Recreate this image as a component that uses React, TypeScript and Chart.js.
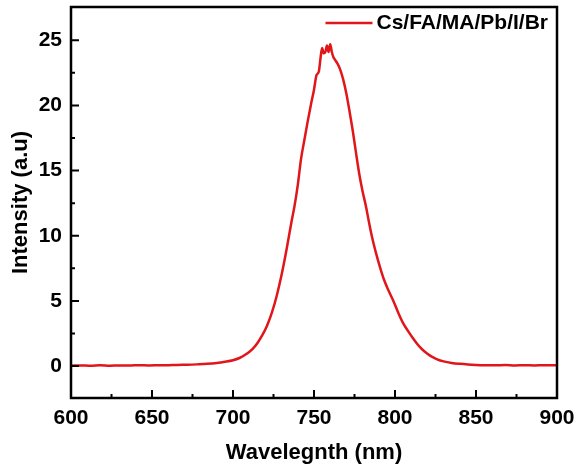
import React, { useEffect, useRef } from "react";
import { Chart, registerables } from "chart.js";

Chart.register(...registerables);

const seriesLabel = "Cs/FA/MA/Pb/I/Br";
const xTitle = "Wavelegnth (nm)";
const yTitle = "Intensity (a.u)";

const wavelengths = [
  600, 606, 612, 618, 624, 630, 636, 642, 648, 654, 660, 666, 672, 678, 684, 690, 695,
  700, 704, 708, 712, 715, 718, 721, 724, 727, 730, 733, 736, 738, 740, 742, 744, 746,
  748, 750, 751.5, 753, 754, 755, 756, 757, 758, 759, 760, 761, 762, 763, 764.5, 766,
  768, 770, 772, 774, 776, 778, 780, 782, 784, 786, 788, 790, 793, 796, 799, 802, 805,
  808, 811, 814, 817, 820, 823, 826, 830, 835, 840, 845, 850, 856, 862, 868, 874, 880,
  886, 892, 900,
];
const intensities = [
  0.03, 0.05, 0.02, 0.06, 0.03, 0.05, 0.04, 0.07, 0.05, 0.06, 0.07, 0.09, 0.1, 0.13, 0.17, 0.24, 0.33,
  0.45, 0.62, 0.9, 1.3, 1.75, 2.35, 3.1, 4.1, 5.4, 7.0, 8.9, 11.0, 12.3, 13.9, 15.9, 17.3, 18.7,
  20.0, 21.2, 22.3, 22.6, 23.6, 24.4, 24.0, 24.1, 24.6, 24.1, 24.7, 24.1, 23.7, 23.5, 23.2, 22.8,
  22.0, 20.9, 19.5, 18.0, 16.3, 14.7, 13.4, 12.3, 11.0, 9.8, 8.8, 7.9, 6.7, 5.8, 5.0, 4.1, 3.3,
  2.7, 2.15, 1.65, 1.25, 0.95, 0.7, 0.52, 0.36, 0.24, 0.17, 0.12, 0.09, 0.07, 0.06, 0.08, 0.05, 0.07,
  0.05, 0.06, 0.06,
];

const xMajorTicks = [600, 650, 700, 750, 800, 850, 900];
const xMinorTicks = [625, 675, 725, 775, 825, 875];
const yMajorTicks = [0, 5, 10, 15, 20, 25];
const yMinorTicks = [2.5, 7.5, 12.5, 17.5, 22.5];

const FONT = "'Liberation Sans', Arial, sans-serif";
const LINE_COLOR = "rgb(224,22,26)";

const framePlugin = {
  id: "frameTicksLegend",
  afterDraw(chart: any) {
    const { ctx, chartArea } = chart;
    const xs = chart.scales.x;
    const ys = chart.scales.y;
    ctx.save();
    ctx.strokeStyle = "#000";
    ctx.lineWidth = 2;
    ctx.beginPath();
    xMajorTicks.forEach((v) => {
      const px = xs.getPixelForValue(v);
      ctx.moveTo(px, chartArea.bottom);
      ctx.lineTo(px, chartArea.bottom - 8);
    });
    xMinorTicks.forEach((v) => {
      const px = xs.getPixelForValue(v);
      ctx.moveTo(px, chartArea.bottom);
      ctx.lineTo(px, chartArea.bottom - 4);
    });
    yMajorTicks.forEach((v) => {
      const py = ys.getPixelForValue(v);
      ctx.moveTo(chartArea.left, py);
      ctx.lineTo(chartArea.left + 8, py);
    });
    yMinorTicks.forEach((v) => {
      const py = ys.getPixelForValue(v);
      ctx.moveTo(chartArea.left, py);
      ctx.lineTo(chartArea.left + 4, py);
    });
    ctx.stroke();
    ctx.lineWidth = 2.5;
    ctx.strokeRect(
      chartArea.left,
      chartArea.top,
      chartArea.right - chartArea.left,
      chartArea.bottom - chartArea.top
    );
    const ds = chart.data.datasets[0];
    ctx.font = `bold 21px ${FONT}`;
    const tw = ctx.measureText(ds.label).width;
    const textX = chartArea.right - 9 - tw;
    const ly = chartArea.top + 16;
    ctx.strokeStyle = ds.borderColor;
    ctx.lineWidth = 2.5;
    ctx.beginPath();
    ctx.moveTo(textX - 51, ly);
    ctx.lineTo(textX - 4, ly);
    ctx.stroke();
    ctx.fillStyle = "#000";
    ctx.textAlign = "left";
    ctx.textBaseline = "middle";
    ctx.fillText(ds.label, textX, ly);
    ctx.restore();
  },
};

const zeroPad = (scale: any) => {
  scale.paddingTop = 0;
  scale.paddingBottom = 0;
  scale.paddingLeft = 0;
  scale.paddingRight = 0;
};

export default function App() {
  const canvasRef = useRef<HTMLCanvasElement | null>(null);

  useEffect(() => {
    const canvas = canvasRef.current;
    if (!canvas) return;
    const points = wavelengths.map((w, i) => ({ x: w, y: intensities[i] }));
    const chart = new Chart(canvas, {
      type: "line",
      data: {
        datasets: [
          {
            label: seriesLabel,
            data: points,
            borderColor: LINE_COLOR,
            backgroundColor: LINE_COLOR,
            borderWidth: 2.5,
            pointRadius: 0,
            cubicInterpolationMode: "monotone",
            fill: false,
          },
        ],
      },
      options: {
        responsive: false,
        animation: false,
        layout: { padding: { top: 7, right: 19, left: 0, bottom: 0 } },
        plugins: {
          legend: { display: false },
          tooltip: { enabled: false },
        },
        scales: {
          x: {
            type: "linear",
            min: 600,
            max: 900,
            grid: { display: false, drawTicks: false },
            border: { display: false },
            afterBuildTicks: (scale: any) => {
              scale.ticks = xMajorTicks.map((v) => ({ value: v }));
            },
            afterFit: (scale: any) => {
              scale.height = 72;
              zeroPad(scale);
            },
            ticks: {
              padding: 8,
              color: "#000",
              maxRotation: 0,
              font: { family: FONT, size: 21, weight: "bold" },
            },
            title: {
              display: true,
              text: xTitle,
              color: "#000",
              font: { family: FONT, size: 22, weight: "bold" },
              padding: { top: 0, bottom: 4 },
            },
          },
          y: {
            type: "linear",
            min: -2.45,
            max: 27.55,
            grid: { display: false, drawTicks: false },
            border: { display: false },
            afterBuildTicks: (scale: any) => {
              scale.ticks = yMajorTicks.map((v) => ({ value: v }));
            },
            afterFit: (scale: any) => {
              scale.width = 71;
              zeroPad(scale);
            },
            ticks: {
              padding: 9,
              color: "#000",
              font: { family: FONT, size: 21, weight: "bold" },
            },
            title: {
              display: true,
              text: yTitle,
              color: "#000",
              font: { family: FONT, size: 22, weight: "bold" },
              padding: { top: 8, bottom: 0 },
            },
          },
        },
      },
      plugins: [framePlugin],
    } as any);
    return () => chart.destroy();
  }, []);

  return (
    <div style={{ position: "absolute", left: 0, top: 0, width: 576, height: 470, background: "#fff" }}>
      <canvas ref={canvasRef} width={576} height={470} style={{ display: "block" }} />
    </div>
  );
}
